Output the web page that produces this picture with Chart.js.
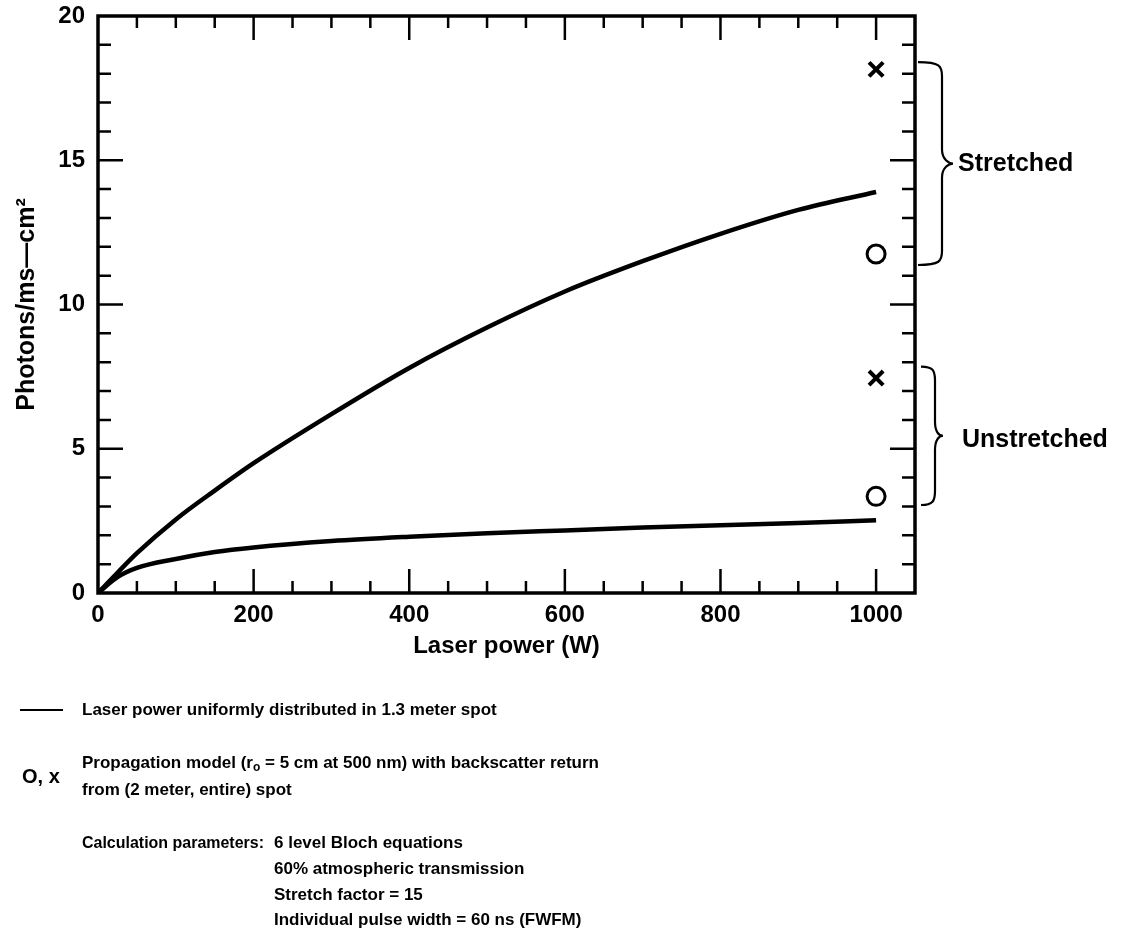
<!DOCTYPE html>
<html>
<head>
<meta charset="utf-8">
<script src="https://cdn.jsdelivr.net/npm/chart.js@4.4.1/dist/chart.umd.min.js"></script>
<style>
  html, body { margin: 0; padding: 0; background: #fff; }
  #wrap { width: 1122px; height: 931px; }
</style>
</head>
<body>
<div id="wrap"><canvas id="photonChart" width="1122" height="931"></canvas></div>
<script>
// Laser power (W) sample points for the two computed curves
const powerW = [0, 25, 50, 100, 150, 200, 300, 400, 500, 600, 700, 800, 900, 1000];
// Photons/ms-cm2, stretched and unstretched pulse formats
const stretchedCurve = [0, 0.7, 1.38, 2.55, 3.55, 4.5, 6.2, 7.8, 9.2, 10.45, 11.5, 12.45, 13.28, 13.9];
const unstretchedCurve = [0, 0.55, 0.87, 1.18, 1.42, 1.58, 1.8, 1.95, 2.07, 2.17, 2.27, 2.35, 2.43, 2.52];

// Propagation model results at 1000 W: [stretched, unstretched]
const modelPowerW = [1000, 1000];
const modelCircle = [11.75, 3.35];  // O: 2 meter spot
const modelCross = [18.15, 7.45];   // x: entire spot

const xTickLabels = [0, 200, 400, 600, 800, 1000];
const yTickLabels = [0, 5, 10, 15, 20];

const FONT = "'Liberation Sans', Arial, Helvetica, sans-serif";
Chart.defaults.font.family = FONT;
Chart.defaults.color = '#000';

function toPoints(xs, ys) {
    return xs.map((x, i) => ({ x: x, y: ys[i] }));
}

// inward tick marks on all four sides plus the closed frame
const frameTicks = {
    id: 'frameTicks',
    afterDatasetsDraw(chart) {
        const { ctx, chartArea: a, scales: { x, y } } = chart;
        ctx.save();
        ctx.strokeStyle = '#000';
        ctx.lineWidth = 2.5;
        ctx.beginPath();
        for (let v = 1; v < 20; v++) {
            const py = y.getPixelForValue(v);
            const len = v % 5 === 0 ? 25 : 13;
            ctx.moveTo(a.left, py); ctx.lineTo(a.left + len, py);
            ctx.moveTo(a.right, py); ctx.lineTo(a.right - len, py);
        }
        for (let v = 50; v <= 1000; v += 50) {
            const px = x.getPixelForValue(v);
            const len = v % 200 === 0 ? 24 : 12;
            ctx.moveTo(px, a.bottom); ctx.lineTo(px, a.bottom - len);
            ctx.moveTo(px, a.top); ctx.lineTo(px, a.top + len);
        }
        ctx.stroke();
        ctx.lineWidth = 3.5;
        ctx.strokeRect(a.left, a.top, a.right - a.left, a.bottom - a.top);
        ctx.restore();
    }
};

function drawBrace(ctx, x0, yTop, yBot, shaft, tip) {
    const yMid = (yTop + yBot) / 2;
    const r = 14;
    ctx.beginPath();
    ctx.moveTo(x0, yTop);
    ctx.bezierCurveTo(shaft - 2, yTop, shaft, yTop + 4, shaft, yTop + r);
    ctx.lineTo(shaft, yMid - r);
    ctx.bezierCurveTo(shaft, yMid - 4, tip - 4, yMid, tip, yMid);
    ctx.bezierCurveTo(tip - 4, yMid, shaft, yMid + 4, shaft, yMid + r);
    ctx.lineTo(shaft, yBot - r);
    ctx.bezierCurveTo(shaft, yBot - 4, shaft - 2, yBot, x0, yBot);
    ctx.stroke();
}

// brackets that group the propagation model points
const braces = {
    id: 'braces',
    afterDraw(chart) {
        const { ctx, chartArea: a, scales: { y } } = chart;
        ctx.save();
        ctx.strokeStyle = '#000';
        ctx.lineWidth = 2.2;
        drawBrace(ctx, a.right + 3, y.getPixelForValue(18.4), y.getPixelForValue(11.37), a.right + 27, a.right + 38);
        drawBrace(ctx, a.right + 6, y.getPixelForValue(7.85), y.getPixelForValue(3.05), a.right + 20, a.right + 28);
        ctx.fillStyle = '#000';
        ctx.font = 'bold 25px ' + FONT;
        ctx.textBaseline = 'middle';
        ctx.fillText('Stretched', a.right + 43, y.getPixelForValue(14.85));
        ctx.fillText('Unstretched', a.right + 47, y.getPixelForValue(5.3));
        ctx.restore();
    }
};

// write a line made of [text, isSubscript] pieces
function drawRuns(ctx, runs, x, y, size) {
    let cx = x;
    runs.forEach(([t, sub]) => {
        ctx.font = 'bold ' + (sub ? Math.round(size * 0.7) : size) + 'px ' + FONT;
        ctx.fillText(t, cx, sub ? y + size * 0.3 : y);
        cx += ctx.measureText(t).width;
    });
}

const notes = {
    id: 'notes',
    afterDraw(chart) {
        const ctx = chart.ctx;
        const size = 17;
        ctx.save();
        ctx.fillStyle = '#000';
        ctx.strokeStyle = '#000';
        ctx.textBaseline = 'middle';
        ctx.lineWidth = 2.2;
        ctx.beginPath();
        ctx.moveTo(20, 710); ctx.lineTo(63, 710);
        ctx.stroke();
        drawRuns(ctx, [['Laser power uniformly distributed in 1.3 meter spot']], 82, 710, size);
        ctx.font = 'bold 20px ' + FONT;
        ctx.fillText('O, x', 22, 777);
        drawRuns(ctx, [['Propagation model (r'], ['o', true], [' = 5 cm at 500 nm) with backscatter return']], 82, 763, size);
        drawRuns(ctx, [['from (2 meter, entire) spot']], 82, 790, size);
        ctx.font = 'bold ' + size + 'px ' + FONT;
        ctx.fillText('Calculation parameters:', 82, 843, 182);
        drawRuns(ctx, [['6 level Bloch equations']], 274, 843, size);
        drawRuns(ctx, [['60% atmospheric transmission']], 274, 869, size);
        drawRuns(ctx, [['Stretch factor = 15']], 274, 895, size);
        drawRuns(ctx, [['Individual pulse width = 60 ns (FWFM)']], 274, 920, size);
        ctx.restore();
    }
};

new Chart(document.getElementById('photonChart'), {
    type: 'scatter',
    data: {
        datasets: [
            {
                label: 'Stretched',
                data: toPoints(powerW, stretchedCurve),
                showLine: true,
                borderColor: '#000',
                borderWidth: 4.5,
                pointRadius: 0,
                cubicInterpolationMode: 'monotone'
            },
            {
                label: 'Unstretched',
                data: toPoints(powerW, unstretchedCurve),
                showLine: true,
                borderColor: '#000',
                borderWidth: 4.5,
                pointRadius: 0,
                cubicInterpolationMode: 'monotone'
            },
            {
                label: '2 meter spot',
                data: toPoints(modelPowerW, modelCircle),
                pointStyle: 'circle',
                pointRadius: 9,
                borderWidth: 3,
                borderColor: '#000',
                backgroundColor: 'rgba(0,0,0,0)'
            },
            {
                label: 'Entire spot',
                data: toPoints(modelPowerW, modelCross),
                pointStyle: 'crossRot',
                pointRadius: 10,
                borderWidth: 4,
                borderColor: '#000'
            }
        ]
    },
    options: {
        responsive: false,
        animation: false,
        layout: { padding: { left: 0, top: 16, right: 207, bottom: 258 } },
        plugins: {
            legend: { display: false },
            tooltip: { enabled: false }
        },
        scales: {
            x: {
                type: 'linear',
                min: 0,
                max: 1050,
                grid: { display: false, drawTicks: false },
                border: { display: false },
                afterBuildTicks: scale => { scale.ticks = xTickLabels.map(v => ({ value: v })); },
                afterFit: scale => {
                    scale.height = 80;
                    scale.paddingLeft = 0;
                    scale.paddingRight = 0;
                },
                ticks: {
                    padding: 8,
                    autoSkip: false,
                    maxRotation: 0,
                    color: '#000',
                    font: { size: 24, weight: 'bold' },
                    callback: value => String(value)
                },
                title: {
                    display: true,
                    text: 'Laser power (W)',
                    color: '#000',
                    font: { size: 24, weight: 'bold' },
                    padding: { top: 0, bottom: 12 }
                }
            },
            y: {
                type: 'linear',
                min: 0,
                max: 20,
                grid: { display: false, drawTicks: false },
                border: { display: false },
                afterBuildTicks: scale => { scale.ticks = yTickLabels.map(v => ({ value: v })); },
                afterFit: scale => {
                    scale.width = 98;
                    scale.paddingTop = 0;
                    scale.paddingBottom = 0;
                },
                ticks: {
                    padding: 13,
                    autoSkip: false,
                    color: '#000',
                    font: { size: 24, weight: 'bold' }
                },
                title: {
                    display: true,
                    text: 'Photons/ms\u2014cm\u00b2',
                    color: '#000',
                    font: { size: 25, weight: 'bold' },
                    padding: { top: 12, bottom: 0 }
                }
            }
        }
    },
    plugins: [frameTicks, braces, notes]
});
</script>
</body>
</html>
